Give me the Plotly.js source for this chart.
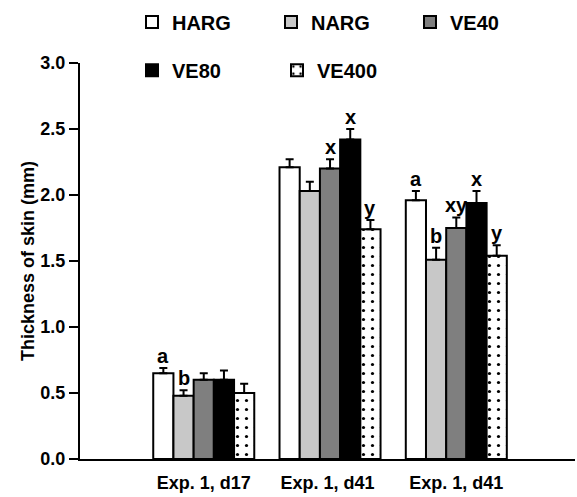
<!DOCTYPE html>
<html>
<head>
<meta charset="utf-8">
<script src="https://cdn.plot.ly/plotly-3.0.1.min.js"></script>
<style>html,body{margin:0;padding:0;background:#fff;}#chart{width:577px;height:497px;}</style>
</head>
<body>
<div id="chart"></div>
<script>
var categories = ["Exp. 1, d17", "Exp. 1, d41 ", "Exp. 1, d41"];
var seriesNames = ["HARG", "NARG", "VE40", "VE80", "VE400"];
var HARG = [0.65, 2.21, 1.96];
var NARG = [0.48, 2.03, 1.51];
var VE40 = [0.60, 2.20, 1.75];
var VE80 = [0.60, 2.42, 1.94];
var VE400 = [0.50, 1.74, 1.54];
var HARG_err = [0.04, 0.06, 0.07];
var NARG_err = [0.04, 0.07, 0.09];
var VE40_err = [0.05, 0.07, 0.08];
var VE80_err = [0.07, 0.08, 0.09];
var VE400_err = [0.07, 0.07, 0.08];
// significance letters per series per category
var HARG_lbl = ["a", "", "a"];
var NARG_lbl = ["b", "", "b"];
var VE40_lbl = ["", "x", "xy"];
var VE80_lbl = ["", "x", "x"];
var VE400_lbl = ["", "y", "y"];

var values = [HARG, NARG, VE40, VE80, VE400];
var errs = [HARG_err, NARG_err, VE40_err, VE80_err, VE400_err];
var lbls = [HARG_lbl, NARG_lbl, VE40_lbl, VE80_lbl, VE400_lbl];
var fills = ["#ffffff", "#c8c8c8", "#7f7f7f", "#000000", "#ffffff"];
var legendOf = ["legend", "legend", "legend", "legend2", "legend2"];

var font = "Liberation Sans, Arial, sans-serif";
var traces = seriesNames.map(function (name, i) {
  var marker = {color: fills[i], line: {color: "#000", width: 2}};
  if (name === "VE400") {
    marker.pattern = {shape: ".", fgcolor: "#000", bgcolor: "#fff", size: 9, solidity: 0.1, fillmode: "replace"};
  }
  return {
    type: "bar", name: name, x: categories, y: values[i],
    marker: marker,
    legend: legendOf[i],
    error_y: {type: "data", array: errs[i], arrayminus: errs[i].map(function(){return 0;}), symmetric: false,
              color: "#000", thickness: 2, width: 4},
    hoverinfo: "skip"
  };
});

var annotations = [];
var nS = seriesNames.length, groupW = 0.8, barW = groupW / nS;
lbls.forEach(function (arr, i) {
  arr.forEach(function (t, j) {
    if (!t) return;
    annotations.push({
      x: j + (i - (nS - 1) / 2) * barW, y: values[i][j] + errs[i][j],
      xref: "x", yref: "y", text: "<b>" + t + "</b>", showarrow: false,
      yanchor: "bottom", yshift: -1,
      font: {family: font, size: 20, color: "#000"}
    });
  });
});

var legFont = {family: font, size: 20, color: "#000", weight: "bold"};
var layout = {
  width: 577, height: 497,
  margin: {l: 80, r: 2, t: 63, b: 38, autoexpand: false},
  paper_bgcolor: "#fff", plot_bgcolor: "#fff",
  barmode: "group", bargap: 0.2, bargroupgap: 0,
  font: {family: font, color: "#000"},
  showlegend: true,
  legend: {orientation: "h", x: 0.105, xanchor: "left", y: 1.1035, yanchor: "middle",
           font: legFont, entrywidth: 94, traceorder: "normal",
           itemclick: false, itemdoubleclick: false},
  legend2: {orientation: "h", x: 0.105, xanchor: "left", y: 0.982, yanchor: "middle",
           font: legFont, entrywidth: 100, traceorder: "normal",
           itemclick: false, itemdoubleclick: false},
  xaxis: {
    type: "category", range: [-0.98, 2.94], showline: true, linecolor: "#000", linewidth: 2,
    ticks: "", showgrid: false, zeroline: false, ticklabelstandoff: 6,
    tickfont: {family: font, size: 18, color: "#000", weight: "bold"}, fixedrange: true
  },
  yaxis: {
    range: [0, 3], tickvals: [0, 0.5, 1, 1.5, 2, 2.5, 3], ticktext: ["0.0", "0.5", "1.0", "1.5", "2.0", "2.5", "3.0"],
    showline: true, linecolor: "#000", linewidth: 2, ticks: "outside", ticklen: 9, tickwidth: 2, tickcolor: "#000",
    showgrid: false, zeroline: false, fixedrange: true,
    tickfont: {family: font, size: 18, color: "#000", weight: "bold"},
    title: {text: "Thickness of skin (mm)", standoff: 1, font: {family: font, size: 18, color: "#000", weight: "bold"}}
  },
  annotations: annotations
};

Plotly.newPlot("chart", traces, layout, {displayModeBar: false, staticPlot: true});
</script>
</body>
</html>
